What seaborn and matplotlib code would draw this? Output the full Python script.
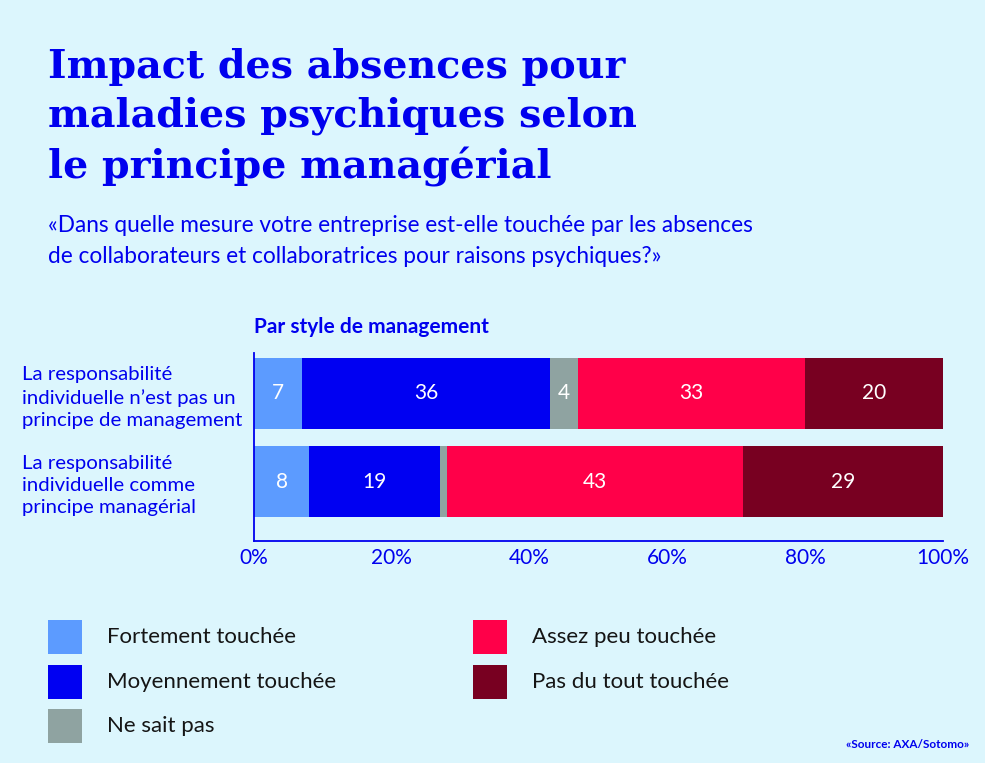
import matplotlib
matplotlib.use("Agg")
import matplotlib.pyplot as plt
import seaborn as sns
import pandas as pd
from matplotlib.patches import Rectangle

# data
groups = ["La responsabilité\nindividuelle n’est pas un\nprincipe de management",
          "La responsabilité\nindividuelle comme\nprincipe managérial"]
categories = ["Fortement touchée", "Moyennement touchée", "Ne sait pas",
              "Assez peu touchée", "Pas du tout touchée"]
fortement = [7, 8]
moyennement = [36, 19]
ne_sait_pas = [4, 1]
assez_peu = [33, 43]
pas_du_tout = [20, 29]
xticks = [0, 20, 40, 60, 80, 100]
xtick_labels = ["0%", "20%", "40%", "60%", "80%", "100%"]

colors = ["#5c9bff", "#0000f2", "#8fa3a1", "#ff0049", "#780021"]
bg = "#dcf6fd"
blue = "#0000ee"

sns.set_theme(style="white")
plt.rcParams["font.family"] = ["Lato", "DejaVu Sans"]

df = pd.DataFrame({"groupe": groups,
                   categories[0]: fortement,
                   categories[1]: moyennement,
                   categories[2]: ne_sait_pas,
                   categories[3]: assez_peu,
                   categories[4]: pas_du_tout})
cum = df[categories].cumsum(axis=1)

fig = plt.figure(figsize=(9.85, 7.63), dpi=100)
fig.patch.set_facecolor(bg)
ax = fig.add_axes([254 / 985, 1 - 541 / 763, 689 / 985, 188 / 763])
ax.set_facecolor(bg)

# stacked bars: draw cumulative totals from the outermost segment inward
for i in reversed(range(len(categories))):
    sns.barplot(x=cum[categories[i]], y=df["groupe"], color=colors[i],
                orient="h", width=0.807, saturation=1, linewidth=0, ax=ax)

# value labels inside segments
for j in range(len(groups)):
    left = 0
    for cat in categories:
        v = df.loc[j, cat]
        if v >= 2:
            ax.text(left + v / 2, j, str(v), ha="center", va="center",
                    color="white", fontsize=15)
        left += v

ax.set_xlim(0, 100)
ax.set_ylim(1.676, -0.46)
ax.set_xlabel("")
ax.set_ylabel("")
ax.set_xticks(xticks)
ax.set_xticklabels(xtick_labels, fontsize=15, color=blue)
ax.tick_params(axis="x", direction="in", length=5, width=1.2, color=blue, pad=5)
ax.tick_params(axis="y", length=0, pad=167)
for lbl in ax.get_yticklabels():
    lbl.set_ha("left")
    lbl.set_fontsize(14.7)
    lbl.set_color(blue)
    lbl.set_linespacing(1.36)
sns.despine(ax=ax)
for s in ["left", "bottom"]:
    ax.spines[s].set_color(blue)
    ax.spines[s].set_linewidth(1.3)

# titles
fig.text(48 / 985, 1 - 48 / 763,
         "Impact des absences pour\nmaladies psychiques selon\nle principe managérial",
         ha="left", va="top", fontsize=28.5, family="DejaVu Serif",
         weight="bold", color=blue, linespacing=1.36)
fig.text(48 / 985, 1 - 241 / 763,
         "«Dans quelle mesure votre entreprise est-elle touchée par les absences\n"
         "de collaborateurs et collaboratrices pour raisons psychiques?»",
         ha="left", va="center", fontsize=16.3, color=blue, linespacing=1.6)
fig.text(254 / 985, 1 - 327 / 763, "Par style de management",
         ha="left", va="center", fontsize=15, weight="bold", color=blue)

# legend
legend_pos = [(48, 620), (48, 665), (48, 709), (473, 620), (473, 665)]
for (x, y), cat, col in zip(legend_pos, categories, colors):
    fig.patches.append(Rectangle((x / 985, 1 - (y + 34) / 763), 34 / 985, 34 / 763,
                                 transform=fig.transFigure, facecolor=col,
                                 edgecolor="none"))
    fig.text((x + 59) / 985, 1 - (y + 17) / 763, cat, ha="left", va="center",
             fontsize=16, color="#151515")

fig.text(969 / 985, 1 - 744 / 763, "«Source: AXA/Sotomo»", ha="right",
         va="center", fontsize=8.5, weight="bold", color=blue)

fig.savefig("out.png", dpi=100, facecolor=bg)
